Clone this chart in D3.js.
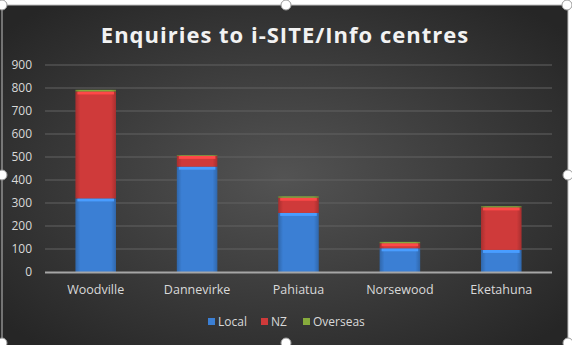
<!DOCTYPE html>
<html lang="en">
<head>
<meta charset="UTF-8">
<title>Enquiries to i-SITE/Info centres</title>
<script src="https://d3js.org/d3.v7.min.js"></script>
<style>
    body { margin: 0; background: #fff; }
    svg { display: block; }
    text { font-family: "Open Sans", sans-serif; fill: #d9d9d9; }
    .title { font-size: 22px; font-weight: bold; fill: #f2f2f2; letter-spacing: 1px; }
    .tick text { font-size: 12px; }
    .xlab .tick text { font-size: 12.5px; }
</style>
</head>
<body>
<svg width="572" height="345"></svg>
<script>
    var categories = ["Woodville", "Dannevirke", "Pahiatua", "Norsewood", "Eketahuna"];
    var local = [320, 458, 257, 103, 96];
    var nz = [465, 47, 66, 22, 185];
    var overseas = [7, 3, 6, 6, 5];
    var seriesNames = ["Local", "NZ", "Overseas"];
    var seriesColors = ["#3b7fd4", "#cf3a3a", "#86ab3c"];
    var yTicks = [0, 100, 200, 300, 400, 500, 600, 700, 800, 900];

    var rows = categories.map((c, i) => ({ name: c, Local: local[i], NZ: nz[i], Overseas: overseas[i] }));

    var svg = d3.select("svg");
    var defs = svg.append("defs");

    var bg = defs.append("radialGradient").attr("id", "bg").attr("cx", "50%").attr("cy", "50%").attr("r", "65%");
    bg.append("stop").attr("offset", "0%").attr("stop-color", "#535353");
    bg.append("stop").attr("offset", "100%").attr("stop-color", "#262626");

    // bar shading per series (darker edges, lighter middle)
    seriesColors.forEach((c, i) => {
        var g = defs.append("linearGradient").attr("id", "bar" + i);
        var col = d3.color(c);
        g.append("stop").attr("offset", "0%").attr("stop-color", col.darker(0.6));
        g.append("stop").attr("offset", "12%").attr("stop-color", col);
        g.append("stop").attr("offset", "88%").attr("stop-color", col);
        g.append("stop").attr("offset", "100%").attr("stop-color", col.darker(0.6));
    });

    // chart frame
    svg.append("rect").attr("x", 0).attr("y", 5).attr("width", 568).attr("height", 345).attr("fill", "url(#bg)");
    svg.append("rect").attr("x", 2).attr("y", 5).attr("width", 566).attr("height", 345)
        .attr("fill", "none").attr("stroke", "#bfbfbf").attr("stroke-width", 1);

    svg.append("text").attr("class", "title").attr("x", 285).attr("y", 43)
        .attr("text-anchor", "middle").text("Enquiries to i-SITE/Info centres");

    var x = d3.scaleBand().domain(categories).range([45, 552]).paddingInner(0.6).paddingOuter(0.3);
    var y = d3.scaleLinear().domain([0, 900]).range([272, 65]);

    // gridlines
    svg.append("g").selectAll("line").data(yTicks.slice(1)).enter().append("line")
        .attr("x1", 45).attr("x2", 552)
        .attr("y1", d => y(d)).attr("y2", d => y(d))
        .attr("stroke", "#636363").attr("stroke-width", 1);

    var yAxis = svg.append("g").attr("transform", "translate(36,0)")
        .call(d3.axisLeft(y).tickValues(yTicks).tickSize(0).tickPadding(4));
    yAxis.select(".domain").remove();

    var stack = d3.stack().keys(seriesNames)(rows);

    var layers = svg.append("g").selectAll("g").data(stack).enter().append("g");
    layers.selectAll("rect.b").data((d, i) => d.map(p => ({ p: p, i: i }))).enter().append("rect")
        .attr("x", d => x(d.p.data.name))
        .attr("width", x.bandwidth())
        .attr("y", d => y(d.p[1]))
        .attr("height", d => y(d.p[0]) - y(d.p[1]))
        .attr("fill", d => "url(#bar" + d.i + ")");
    // top bevel highlight, only on segments tall enough to show it
    layers.selectAll("rect.h").data((d, i) => d.map(p => ({ p: p, i: i }))
            .filter(d => y(d.p[0]) - y(d.p[1]) > 5)).enter().append("rect")
        .attr("x", d => x(d.p.data.name) + 2)
        .attr("width", x.bandwidth() - 4)
        .attr("y", d => y(d.p[1]))
        .attr("height", 3)
        .attr("fill", d => d3.color(seriesColors[d.i]).brighter(0.6));

    // x axis
    svg.append("line").attr("x1", 45).attr("x2", 552).attr("y1", 272.5).attr("y2", 272.5)
        .attr("stroke", "#a6a6a6").attr("stroke-width", 2);
    var xAxis = svg.append("g").attr("class", "xlab").attr("transform", "translate(0,272)")
        .call(d3.axisBottom(x).tickSize(0).tickPadding(13));
    xAxis.select(".domain").remove();

    // legend
    var legendX = [208, 261, 303];
    var legend = svg.append("g").selectAll("g").data(seriesNames).enter().append("g")
        .attr("transform", (d, i) => "translate(" + legendX[i] + ",318)");
    legend.append("rect").attr("width", 7).attr("height", 7)
        .attr("fill", (d, i) => seriesColors[i]);
    legend.append("text").attr("x", 10).attr("y", 8).attr("font-size", 12).text(d => d);

    // selection handles
    var handles = [[2, 5], [286, 5], [567, 5], [2, 175], [568, 175], [2, 343], [286, 343], [568, 343]];
    svg.append("g").selectAll("circle").data(handles).enter().append("circle")
        .attr("cx", d => d[0]).attr("cy", d => d[1]).attr("r", 5)
        .attr("fill", "#fff").attr("stroke", "#9a9a9a").attr("stroke-width", 1);
</script>
</body>
</html>
